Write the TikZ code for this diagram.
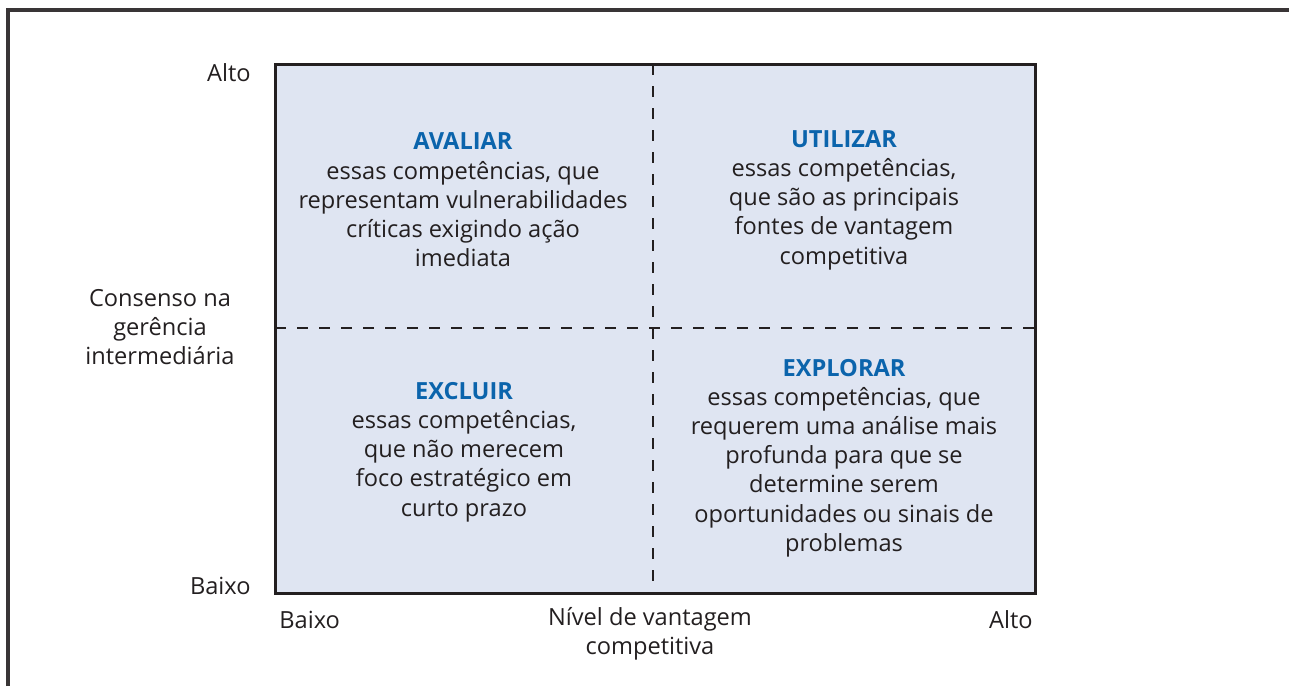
\documentclass[tikz,border=0pt]{standalone}
\usepackage{fontspec}
\setmainfont{Open Sans}
\usepackage{tikz}
\usetikzlibrary{positioning}
\definecolor{ink}{HTML}{231F20}
\definecolor{panel}{HTML}{DFE5F2}
\definecolor{accent}{HTML}{0B64AC}

\begin{document}
\begin{tikzpicture}[x=0.5pt,y=-0.5pt,
  every node/.style={text=ink,font=\fontsize{11.8}{14.6}\selectfont},
  quad/.style={align=center},
  axislabel/.style={align=center,inner sep=0pt},
  frame/.style={draw=ink!90,line width=1.6pt},
  divider/.style={draw=ink,line width=1.2pt,dash pattern=on 5.5pt off 5.5pt}
]
\useasboundingbox (0,0) rectangle (1289,686);
% outer frame
\draw[frame] (8,686) -- (8,10) -- (1289,10);
% matrix corners
\coordinate (nw) at (275,64);
\coordinate (se) at (1035,593);
\coordinate (top) at (653,64);
\coordinate (bot) at (653,593);
\coordinate (lft) at (275,328);
\coordinate (rgt) at (1035,328);
\fill[panel] (nw) rectangle (se);
\draw[divider] (top) -- (bot);
\draw[divider] (lft) -- (rgt);
\draw[draw=ink,line width=1.5pt] (nw) rectangle (se);
% quadrants
\node[quad] (avaliar) at (463,200) {\textcolor{accent}{\bfseries AVALIAR}\\
  essas competências, que\\representam vulnerabilidades\\críticas exigindo ação\\imediata};
\node[quad] (utilizar) at (844,200) {\textcolor{accent}{\bfseries UTILIZAR}\\
  essas competências,\\que são as principais\\fontes de vantagem\\competitiva};
\node[quad] (excluir) at (464,452) {\textcolor{accent}{\bfseries EXCLUIR}\\
  essas competências,\\que não merecem\\foco estratégico em\\curto prazo};
\node[quad] (explorar) at (844,458) {\textcolor{accent}{\bfseries EXPLORAR}\\
  essas competências, que\\requerem uma análise mais\\profunda para que se\\determine serem\\oportunidades ou sinais de\\problemas};
% vertical axis
\node[anchor=east,inner sep=0pt] (yhigh) at (251,73) {Alto};
\node[anchor=east,inner sep=0pt] (ylow) at (251,586) {Baixo};
\node[axislabel] (ytitle) at (160,327) {Consenso na\\gerência\\intermediária};
% horizontal axis
\node[anchor=west,inner sep=0pt] (xlow) at (279,620) {Baixo};
\node[anchor=east,inner sep=0pt] (xhigh) at (1033,620) {Alto};
\node[axislabel,anchor=north] (xtitle) at (650,607) {Nível de vantagem\\competitiva};
\end{tikzpicture}
\end{document}
